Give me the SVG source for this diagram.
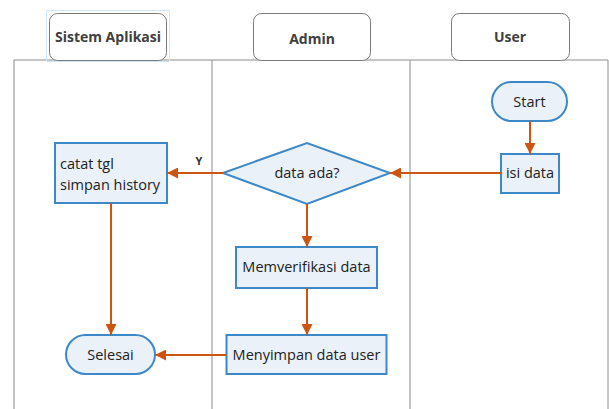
<svg xmlns="http://www.w3.org/2000/svg" width="609" height="409" viewBox="0 0 609 409">
<style>
.hdr{fill:#fff;stroke:#7a7a7a;stroke-width:1}
.hdrt{font-family:"Open Sans","Liberation Sans",sans-serif;font-weight:bold;font-size:14px;fill:#404040;text-anchor:middle}
.lane{stroke:#8c8c8c;stroke-width:1;fill:none}
.box{fill:#eaf1f8;stroke:#3d88c9;stroke-width:2}
.t{font-family:"Open Sans","Liberation Sans",sans-serif;font-size:14.5px;fill:#222;text-anchor:middle}
.tl{font-family:"Open Sans","Liberation Sans",sans-serif;font-size:14.5px;fill:#222}
.c{stroke:#cc5512;stroke-width:2;fill:none;marker-end:url(#ah)}
.lbl{font-family:"Open Sans","Liberation Sans",sans-serif;font-weight:bold;font-size:11px;fill:#333;text-anchor:middle}
</style>
<defs>
<marker id="ah" viewBox="0 0 10 10" refX="10" refY="5" markerWidth="5.5" markerHeight="5.5" orient="auto" markerUnits="strokeWidth">
<path d="M0,0 L10,5 L0,10 z" fill="#cc5512"/>
</marker>
</defs>
<rect width="609" height="409" fill="#fff"/>
<g id="lanes">
<path class="lane" d="M14,409 V60 H608 V409 M212,60 V409 M410,60 V409"/>
</g>
<g id="hdr-sistem">
<rect x="46.5" y="10.5" width="123" height="51" fill="none" stroke="#cfe6f6" stroke-width="1"/>
<rect class="hdr" x="49.5" y="13.5" width="117" height="47" rx="8"/>
<text class="hdrt" x="108" y="42" font-size="13">Sistem Aplikasi</text>
</g>
<g id="hdr-admin">
<rect class="hdr" x="253.5" y="13.5" width="117" height="47" rx="8"/>
<text class="hdrt" x="312" y="44">Admin</text>
</g>
<g id="hdr-user">
<rect class="hdr" x="451.5" y="13.5" width="118" height="47" rx="8"/>
<text class="hdrt" x="510" y="42">User</text>
</g>
<g id="start">
<rect class="box" x="492" y="82" width="75" height="39" rx="19.5"/>
<text class="t" x="529.5" y="107">Start</text>
</g>
<g id="isi">
<rect class="box" x="501" y="154" width="58" height="39"/>
<text class="t" x="530" y="178">isi data</text>
</g>
<g id="decision">
<polygon class="box" points="223,173 307,143 390,173 307,204"/>
<text class="t" x="307" y="178">data ada?</text>
</g>
<g id="catat">
<rect class="box" x="55" y="143" width="112" height="60"/>
<text class="tl" x="60" y="169">catat tgl</text>
<text class="tl" x="60" y="190">simpan history</text>
</g>
<g id="verif">
<rect class="box" x="236" y="247" width="141" height="41"/>
<text class="t" x="306.5" y="272">Memverifikasi data</text>
</g>
<g id="simpan">
<rect class="box" x="226.5" y="335" width="160" height="39"/>
<text class="t" x="306.5" y="360">Menyimpan data user</text>
</g>
<g id="selesai">
<rect class="box" x="66" y="335" width="89" height="39" rx="19.5"/>
<text class="t" x="110.5" y="360">Selesai</text>
</g>
<g id="connectors">
<path class="c" d="M530,121 V154"/>
<path class="c" d="M501,173 H390"/>
<path class="c" d="M223,173 H167"/>
<text class="lbl" x="199" y="165">Y</text>
<path class="c" d="M307,204 V247"/>
<path class="c" d="M307,288 V335"/>
<path class="c" d="M111,203 V335"/>
<path class="c" d="M226.5,355 H155"/>
</g>
</svg>
